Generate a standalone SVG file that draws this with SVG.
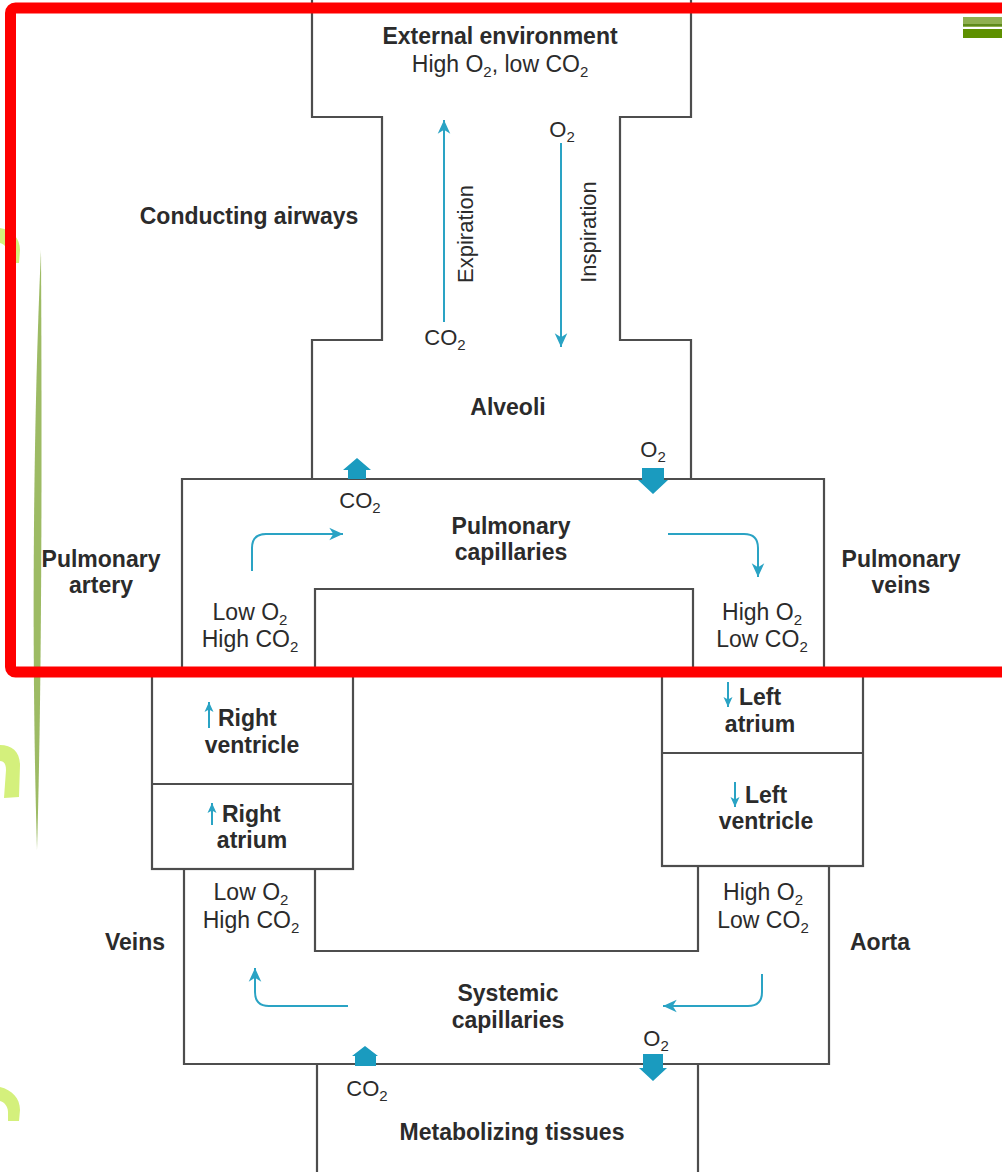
<svg xmlns="http://www.w3.org/2000/svg" width="1002" height="1172" viewBox="0 0 1002 1172">
<defs>
<style>
.ln{fill:none;stroke:#4d4d4d;stroke-width:2.2}
.b{font-family:"Liberation Sans",Arial,sans-serif;font-weight:bold;font-size:23px;fill:#2b2b2b}
.r{font-family:"Liberation Sans",Arial,sans-serif;font-size:23px;fill:#2b2b2b}
.s{font-family:"Liberation Sans",Arial,sans-serif;font-size:22px;fill:#2b2b2b}
.sub{font-size:15px}
.fl{fill:none;stroke:#2aa3c4;stroke-width:2}
.blk{fill:#1a9bbf}
.blob{fill:#d4f07c}
</style>
<marker id="ah" markerUnits="userSpaceOnUse" markerWidth="16" markerHeight="16" refX="0" refY="0" viewBox="-13 -7 14 14" orient="auto">
<path d="M0,0 L-12,-5.5 L-8.5,0 L-12,5.5 Z" fill="#2aa3c4"/>
</marker>
<marker id="ahs" markerUnits="userSpaceOnUse" markerWidth="12" markerHeight="12" refX="0" refY="0" viewBox="-11 -6 12 12" orient="auto">
<path d="M0,0 L-10,-4.5 L-7.5,0 L-10,4.5 Z" fill="#2aa3c4"/>
</marker>
</defs>
<rect width="1002" height="1172" fill="#ffffff"/>

<!-- background decorations -->
<path d="M41,250 C32,450 32,680 37,850 C42,680 42,450 41,250 Z" fill="#9dbb64"/>
<path class="blob" d="M0,228 C12,230 20,238 20,250 L19,263 L8,263 L8,254 C8,248 4,244 0,243 Z"/>
<path class="blob" d="M0,745 C12,745 20,752 20,765 L19,797 L4,798 L6,770 C6,764 4,761 0,761 Z"/>
<path class="blob" d="M0,1087 C12,1090 20,1098 20,1110 L19,1121 L8,1121 L8,1112 C8,1106 4,1102 0,1101 Z"/>
<rect x="963" y="17" width="39" height="10" fill="#8fb050"/>
<rect x="963" y="24" width="39" height="2" fill="#5e8a1a"/>
<rect x="963" y="29" width="39" height="9" fill="#5e9000"/>

<g id="external-environment">
<path class="ln" d="M312,0 V117 H382 V340 H312 V479"/>
<path class="ln" d="M691,0 V117 H620 V340 H691 V479"/>
<text class="b" x="500" y="44" text-anchor="middle">External environment</text>
<text class="r" x="500" y="72" text-anchor="middle">High O<tspan class="sub" dy="5">2</tspan><tspan dy="-5">, low CO</tspan><tspan class="sub" dy="5">2</tspan></text>
</g>

<g id="conducting-airways">
<text class="b" x="249" y="224" text-anchor="middle">Conducting airways</text>
</g>

<g id="alveoli">
<text class="b" x="508" y="415" text-anchor="middle">Alveoli</text>
</g>

<g id="pulmonary-capillaries">
<path class="ln" d="M182,672 V479 H824 V672"/>
<path class="ln" d="M315,672 V589 H693 V672"/>
<text class="b" x="511" y="534" text-anchor="middle">Pulmonary</text>
<text class="b" x="511" y="560" text-anchor="middle">capillaries</text>
<text class="r" x="250" y="620" text-anchor="middle">Low O<tspan class="sub" dy="5">2</tspan></text>
<text class="r" x="250" y="647" text-anchor="middle">High CO<tspan class="sub" dy="5">2</tspan></text>
<text class="r" x="762" y="620" text-anchor="middle">High O<tspan class="sub" dy="5">2</tspan></text>
<text class="r" x="762" y="647" text-anchor="middle">Low CO<tspan class="sub" dy="5">2</tspan></text>
</g>

<g id="pulmonary-artery">
<text class="b" x="101" y="567" text-anchor="middle">Pulmonary</text>
<text class="b" x="101" y="593" text-anchor="middle">artery</text>
</g>

<g id="pulmonary-veins">
<text class="b" x="901" y="567" text-anchor="middle">Pulmonary</text>
<text class="b" x="901" y="593" text-anchor="middle">veins</text>
</g>

<g id="right-heart">
<rect class="ln" x="152" y="672" width="201" height="197"/>
<line class="ln" x1="152" y1="784" x2="353" y2="784"/>
<text class="b" x="218" y="726">Right</text>
<text class="b" x="252" y="753" text-anchor="middle">ventricle</text>
<text class="b" x="222" y="822">Right</text>
<text class="b" x="252" y="848" text-anchor="middle">atrium</text>
</g>

<g id="left-heart">
<rect class="ln" x="662" y="672" width="201" height="194"/>
<line class="ln" x1="662" y1="753" x2="863" y2="753"/>
<text class="b" x="739" y="705">Left</text>
<text class="b" x="760" y="732" text-anchor="middle">atrium</text>
<text class="b" x="745" y="803">Left</text>
<text class="b" x="766" y="829" text-anchor="middle">ventricle</text>
</g>

<g id="systemic-capillaries">
<path class="ln" d="M184,869 V1064 H829 V866"/>
<path class="ln" d="M315,869 V951 H698 V866"/>
<text class="b" x="508" y="1001" text-anchor="middle">Systemic</text>
<text class="b" x="508" y="1028" text-anchor="middle">capillaries</text>
<text class="r" x="251" y="900" text-anchor="middle">Low O<tspan class="sub" dy="5">2</tspan></text>
<text class="r" x="251" y="928" text-anchor="middle">High CO<tspan class="sub" dy="5">2</tspan></text>
<text class="r" x="763" y="900" text-anchor="middle">High O<tspan class="sub" dy="5">2</tspan></text>
<text class="r" x="763" y="928" text-anchor="middle">Low CO<tspan class="sub" dy="5">2</tspan></text>
</g>

<g id="veins">
<text class="b" x="135" y="950" text-anchor="middle">Veins</text>
</g>

<g id="aorta">
<text class="b" x="880" y="950" text-anchor="middle">Aorta</text>
</g>

<g id="metabolizing-tissues">
<path class="ln" d="M317,1172 V1064"/>
<path class="ln" d="M698,1172 V1064"/>
<text class="b" x="512" y="1140" text-anchor="middle">Metabolizing tissues</text>
</g>

<g id="connectors">
<line class="fl" x1="444" y1="322" x2="444" y2="120" marker-end="url(#ah)"/>
<line class="fl" x1="561" y1="143" x2="561" y2="347" marker-end="url(#ah)"/>
<text class="s" transform="translate(473,234) rotate(-90)" text-anchor="middle">Expiration</text>
<text class="s" transform="translate(596,232) rotate(-90)" text-anchor="middle">Inspiration</text>
<text class="s" x="562" y="137" text-anchor="middle">O<tspan class="sub" dy="5">2</tspan></text>
<text class="s" x="445" y="345" text-anchor="middle">CO<tspan class="sub" dy="5">2</tspan></text>

<path class="fl" d="M252,571 V548 Q252,534 266,534 H343" marker-end="url(#ah)"/>
<path class="fl" d="M668,534 H744 Q758,534 758,548 V577" marker-end="url(#ah)"/>
<path class="fl" d="M762,974 V992 Q762,1006 748,1006 H663" marker-end="url(#ah)"/>
<path class="fl" d="M348,1006 H269 Q255,1006 255,992 V968" marker-end="url(#ah)"/>

<line class="fl" x1="209" y1="728" x2="209" y2="702" marker-end="url(#ahs)"/>
<line class="fl" x1="212" y1="825" x2="212" y2="803" marker-end="url(#ahs)"/>
<line class="fl" x1="728" y1="682" x2="728" y2="707" marker-end="url(#ahs)"/>
<line class="fl" x1="735" y1="782" x2="735" y2="807" marker-end="url(#ahs)"/>

<polygon class="blk" points="357,458 343,470 348,470 348,479 366,479 366,470 371,470"/>
<text class="s" x="360" y="508" text-anchor="middle">CO<tspan class="sub" dy="5">2</tspan></text>
<polygon class="blk" points="642,468 664,468 664,480 668,480 653,494 638,480 642,480"/>
<text class="s" x="653" y="457" text-anchor="middle">O<tspan class="sub" dy="5">2</tspan></text>
<polygon class="blk" points="365,1046 352,1056 355,1056 355,1066 376,1066 376,1056 378,1056"/>
<text class="s" x="367" y="1096" text-anchor="middle">CO<tspan class="sub" dy="5">2</tspan></text>
<polygon class="blk" points="643,1054 663,1054 663,1068 667,1068 653,1081 639,1068 643,1068"/>
<text class="s" x="656" y="1046" text-anchor="middle">O<tspan class="sub" dy="5">2</tspan></text>
</g>

<rect x="10.5" y="8" width="1000" height="664" rx="5" fill="none" stroke="#ff0000" stroke-width="11"/>
</svg>
